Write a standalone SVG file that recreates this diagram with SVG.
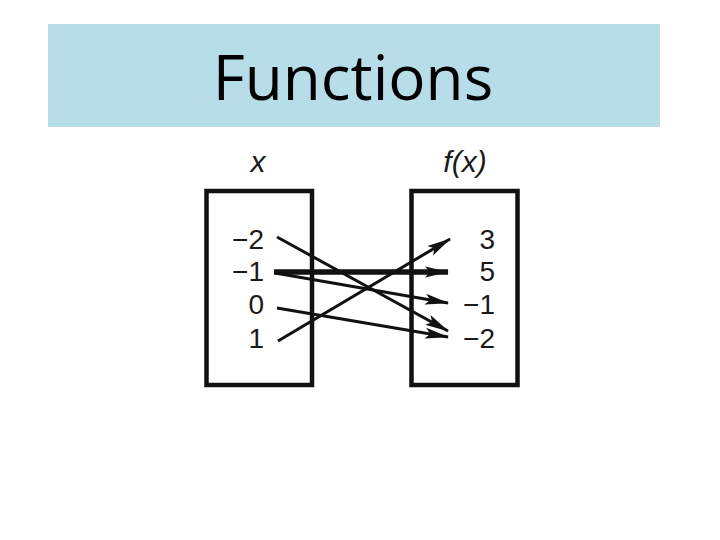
<svg xmlns="http://www.w3.org/2000/svg" width="720" height="540" viewBox="0 0 720 540">
<defs>
<style>
.title{font-family:"Open Sans","Noto Sans",sans-serif;font-size:62px;fill:#000}
.lbl{font-family:"Liberation Sans",Arial,sans-serif;font-size:28px;fill:#1a1a1a}
.it{font-style:italic;font-size:30px}
.box{fill:none;stroke:#111;stroke-width:4.5}
.ln{fill:none;stroke:#111;stroke-width:3;marker-end:url(#ah)}
.thick{stroke-width:5.5}
</style>
<marker id="ah" viewBox="0 0 24 12" refX="23" refY="6" markerWidth="24" markerHeight="12" markerUnits="userSpaceOnUse" orient="auto">
<path d="M0,0.5 L24,6 L0,11.5 L5,6 Z" fill="#111"/>
</marker>
</defs>
<rect id="title-band" x="48" y="24" width="612" height="103" fill="#b7dde8"/>
<text class="title" x="353" y="100" text-anchor="middle">Functions</text>
<g id="domain">
<text class="lbl it" x="258" y="172" text-anchor="middle">x</text>
<rect class="box" x="206.5" y="191" width="105.5" height="194"/>
<text class="lbl" x="264" y="249" text-anchor="end">−2</text>
<text class="lbl" x="264" y="281" text-anchor="end">−1</text>
<text class="lbl" x="264" y="314" text-anchor="end">0</text>
<text class="lbl" x="264" y="348" text-anchor="end">1</text>
</g>
<g id="range">
<text class="lbl it" x="465" y="172" text-anchor="middle">f(x)</text>
<rect class="box" x="411.5" y="191" width="106" height="194"/>
<text class="lbl" x="495" y="249" text-anchor="end">3</text>
<text class="lbl" x="495" y="281" text-anchor="end">5</text>
<text class="lbl" x="495" y="314" text-anchor="end">−1</text>
<text class="lbl" x="495" y="348" text-anchor="end">−2</text>
</g>
<g id="connectors">
<line class="ln" x1="277" y1="237" x2="448" y2="331"/>
<line class="ln thick" x1="274" y1="272" x2="448" y2="272"/>
<line class="ln" x1="275" y1="273" x2="448" y2="303"/>
<line class="ln" x1="277" y1="308" x2="448" y2="337"/>
<line class="ln" x1="278" y1="341" x2="450" y2="239"/>
</g>
</svg>
